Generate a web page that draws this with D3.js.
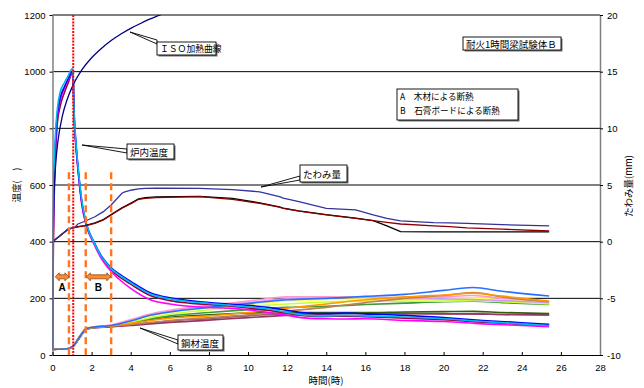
<!DOCTYPE html>
<html><head><meta charset="utf-8">
<script src="https://cdn.jsdelivr.net/npm/d3@7"></script>
<style>
body{margin:0;background:#fff;}
svg{display:block;}
text{font-family:"Liberation Sans",Arial,sans-serif;}
.jp{font-family:"Noto Sans CJK JP","Noto Sans CJK SC",sans-serif;}
</style></head>
<body>
<svg id="c" width="644" height="388"></svg>
<script>
// ---------- data ----------
const xTicks = [0,2,4,6,8,10,12,14,16,18,20,22,24,26,28];
const yTicks = [0,200,400,600,800,1000,1200];
const y2Ticks = [-10,-5,0,5,10,15,20];

// ISO heating curve (hours, °C)
const isoTime = [0,0.02,0.05,0.1,0.2,0.3,0.5,0.75,1,1.5,2,2.5,3,3.5,4,4.5,5,5.5,5.6];
const isoTemp = [20,374,502,603,705,766,842,902,945,1006,1049,1082,1110,1133,1153,1170,1186,1200,1203];

// furnace temperatures
const furnTime = [0,0.03,0.08,0.15,0.25,0.4,0.6,0.8,1.0,1.05,1.1,1.2,1.3,1.5,1.75,2.1,2.5,3,3.5,4,5,6,7,8,9,10,11,12,13,14,15,16,18,20,22,24,25.4];
const furnCyan    = [20,420,640,780,870,930,960,985,1010,995,870,750,670,545,460,400,348,305,278,255,215,198,188,182,176,170,163,150,140,138,140,138,134,128,118,110,104];
const furnBlue    = [20,380,600,750,850,910,945,975,1000,990,860,745,665,540,458,402,350,308,282,260,220,202,192,185,180,175,168,158,148,146,148,145,140,132,122,114,108];
const furnMagenta = [20,360,580,730,840,900,940,970,995,985,855,735,655,530,452,395,340,295,262,235,195,180,172,168,165,160,150,140,130,128,127,128,122,118,110,104,100];
const furnDarkRed = [20,300,540,700,820,880,925,960,992,980,850,740,660,535,455,398,345,300,272,250,210,192,183,178,173,166,158,148,138,136,137,135,130,125,116,108,103];

// steel temperatures
const steelTime = [0,0.75,0.9,1.1,1.3,1.5,1.7,2.0,3,4,5,6,8,10,12,14,16,18,20,21.5,23,25.4];
const steelBlue     = [20,22,25,35,55,75,92,97,104,120,140,152,168,182,195,200,207,214,228,238,225,208];
const steelOrange   = [20,22,25,36,57,77,93,97,103,112,122,130,138,150,165,180,195,205,212,218,208,190];
const steelPink     = [20,22,25,36,56,76,93,98,106,125,145,158,175,190,205,205,203,200,205,210,200,188];
const steelYellow   = [20,22,25,35,55,75,92,97,104,120,138,150,165,178,190,195,198,196,198,200,196,186];
const steelLime     = [20,22,25,35,54,74,91,96,103,116,132,144,160,172,180,187,190,190,190,192,188,180];
const steelGreen    = [20,22,25,35,55,75,92,97,103,114,128,138,150,160,168,172,178,183,188,190,185,178];
const steelDkGreen  = [20,22,25,34,54,74,91,96,102,112,124,133,142,148,150,150,150,152,153,154,150,146];
const steelBrown    = [20,22,25,35,55,75,92,97,102,108,115,122,132,142,155,168,185,200,210,220,205,188];
const steelMauve    = [20,22,24,33,52,72,90,95,100,104,110,115,123,132,140,145,146,146,145,145,143,141];
const steelRosy     = [20,22,24,33,52,72,90,95,100,106,113,120,128,138,146,148,148,147,146,145,143,141];
const steelLavender = [20,22,25,35,56,76,93,98,105,122,142,155,172,185,198,202,205,200,198,196,192,185];

// deflection (mm)
const deflTime = [0,0.4,0.8,1.15,1.3,1.66,2.17,2.6,3.0,3.55,3.7,4.06,4.4,4.75,5.3,7.5,9.2,10.6,11.6,11.8,12.6,14.0,15.5,16.4,17.1,17.8,19.5,20.3,21.2,23,25.4];
const deflBlue  = [0,0.55,1.1,1.27,1.56,1.8,2.2,2.65,3.24,4.27,4.4,4.56,4.65,4.7,4.72,4.7,4.6,4.4,3.97,3.85,3.53,2.94,2.8,2.36,2.05,1.83,1.68,1.65,1.62,1.5,1.39];
const deflRed   = [0,0.55,1.1,1.27,1.3,1.39,1.62,1.91,2.36,2.95,3.09,3.4,3.74,3.82,3.88,3.97,3.74,3.38,3.05,2.94,2.7,2.36,2.06,1.85,1.7,1.56,1.4,1.32,1.22,1.1,0.94];
const deflBlack = [0,0.55,1.1,1.27,1.32,1.42,1.65,1.95,2.4,2.98,3.12,3.45,3.78,3.88,3.95,4.0,3.82,3.42,3.08,2.96,2.72,2.38,2.08,1.85,1.4,0.88,0.86,0.86,0.86,0.86,0.86];

const textIso = "ＩＳＯ加熱曲線";
const textFurn = "炉内温度";
const textDefl = "たわみ量";
const textSteel = "鋼材温度";
const textTitle = "耐火1時間梁試験体Ｂ";
const textLegA = "A　木材による断熱";
const textLegB = "B　石膏ボードによる断熱";
const xLabel = "時間(時)";
const yLabel = "温度(　)";
const y2Label = "たわみ量(mm)";
// annotation time markers
const redLineTime = 1.06;
const orangeLineTimes = [0.84, 1.7, 3.0];

// ---------- drawing ----------
const svg = d3.select("#c");
const L=52.5, R=600, T=15, B=355;
const x = d3.scaleLinear([0,28],[L,R]);
const y = d3.scaleLinear([0,1200],[B,T]);
const y2 = d3.scaleLinear([-10,20],[B,T]);

svg.append("rect").attr("width",644).attr("height",388).attr("fill","#fff");
svg.append("defs").append("clipPath").attr("id","clip")
  .append("rect").attr("x",L).attr("y",T).attr("width",R-L).attr("height",B-T);

// gridlines
svg.append("g").selectAll("line").data(yTicks.filter(v=>v>0)).join("line")
  .attr("x1",L).attr("x2",R).attr("y1",d=>y(d)).attr("y2",d=>y(d))
  .attr("stroke","#000").attr("stroke-width",1);

const pairs = (ts,vs)=>ts.map((t,i)=>[t,vs[i]]);
const lineT = d3.line().x(d=>x(d[0])).y(d=>y(d[1])).curve(d3.curveMonotoneX);
const lineD = d3.line().x(d=>x(d[0])).y(d=>y2(d[1])).curve(d3.curveLinear);

const plot = svg.append("g").attr("clip-path","url(#clip)");

const steelSeries = [
  [steelRosy,"#996666"],[steelMauve,"#993366"],[steelDkGreen,"#2f5f10"],[steelGreen,"#3a9a3a"],
  [steelLime,"#ccff33"],[steelYellow,"#ffff66"],[steelLavender,"#cc99ff"],[steelPink,"#ff99cc"],
  [steelBrown,"#c08050"],[steelOrange,"#ff9900"],[steelBlue,"#2a6fff"]
];
steelSeries.forEach(([v,c])=>{
  plot.append("path").attr("d",lineT(pairs(steelTime,v))).attr("fill","none")
    .attr("stroke",c).attr("stroke-width",1.6);
});

const furnSeries = [[furnDarkRed,"#990033"],[furnMagenta,"#ff00ff"],[furnBlue,"#0000ff"],[furnCyan,"#00b8f0"]];
furnSeries.forEach(([v,c])=>{
  plot.append("path").attr("d",lineT(pairs(furnTime,v))).attr("fill","none")
    .attr("stroke",c).attr("stroke-width",1.6);
});

const deflSeries = [[deflBlack,"#000000"],[deflRed,"#8b0000"],[deflBlue,"#3333a0"]];
deflSeries.forEach(([v,c])=>{
  plot.append("path").attr("d",lineD(pairs(deflTime,v))).attr("fill","none")
    .attr("stroke",c).attr("stroke-width",1.3);
});

plot.append("path").attr("d",lineT(pairs(isoTime,isoTemp))).attr("fill","none")
  .attr("stroke","#000080").attr("stroke-width",1.3);

// orange dashed lines
svg.append("g").selectAll("line").data(orangeLineTimes).join("line")
  .attr("x1",d=>x(d)).attr("x2",d=>x(d)).attr("y1",y(645)).attr("y2",B)
  .attr("stroke","#ff7420").attr("stroke-width",2.4).attr("stroke-dasharray","7,4");
// red dotted line
svg.append("line").attr("x1",x(redLineTime)).attr("x2",x(redLineTime)).attr("y1",T).attr("y2",B)
  .attr("stroke","#ff0000").attr("stroke-width",2).attr("stroke-dasharray","2,1.2");

// axes
const gL = svg.append("g").attr("transform",`translate(${L},0)`)
  .call(d3.axisLeft(y).tickValues(yTicks).tickFormat(d3.format("d")).tickSize(3).tickSizeOuter(0).tickPadding(4));
const gB = svg.append("g").attr("transform",`translate(0,${B})`)
  .call(d3.axisBottom(x).tickValues(xTicks).tickFormat(d3.format("d")).tickSize(-3).tickSizeOuter(0).tickPadding(9));
const gR = svg.append("g").attr("transform",`translate(${R},0)`)
  .call(d3.axisRight(y2).tickValues(y2Ticks).tickFormat(d=>d<0?"-"+Math.abs(d):String(d)).tickSize(3).tickSizeOuter(0).tickPadding(4));
[gL,gB,gR].forEach(g=>{
  g.selectAll("text").attr("font-size",9.5).attr("fill","#000")
    .attr("font-family","'Liberation Sans',Arial,sans-serif");
});
gL.select(".domain").attr("stroke","#808080").attr("stroke-width",1.5);
gR.select(".domain").attr("stroke","#808080").attr("stroke-width",1.5);
gB.select(".domain").attr("stroke","#000").attr("stroke-width",1.2);

// axis titles
svg.append("text").attr("class","jp").attr("x",326).attr("y",384).attr("text-anchor","middle")
  .attr("font-size",9.5).text(xLabel);
svg.append("text").attr("class","jp").attr("transform","translate(20,185) rotate(-90)")
  .attr("text-anchor","middle").attr("font-size",9.5).text(yLabel);
svg.append("text").attr("class","jp").attr("transform","translate(632,186) rotate(-90)")
  .attr("text-anchor","middle").attr("font-size",9.5).text(y2Label);

// callout boxes
function box(x0,y0,w,h,lines,fs,baselines){
  const g=svg.append("g");
  g.append("rect").attr("x",x0+1.5).attr("y",y0+1.5).attr("width",w).attr("height",h).attr("fill","#707070");
  g.append("rect").attr("x",x0).attr("y",y0).attr("width",w).attr("height",h)
    .attr("fill","#fff").attr("stroke","#000").attr("stroke-width",0.9);
  lines.forEach((t,i)=>{
    g.append("text").attr("class","jp").attr("font-size",fs)
      .attr("x",x0+3).attr("y",y0+baselines[i]).text(t);
  });
}
function leader(x1,y1,x2,y2a,y2b){
  svg.append("path").attr("d",`M${x1},${y1}L${x2},${y2a}L${x2},${y2b}Z`)
    .attr("fill","#fff").attr("stroke","#000").attr("stroke-width",0.9).attr("stroke-linejoin","miter");
}
leader(130,32,157,40,44);
box(157,42,59,13,[textIso],8.8,[10]);
leader(82,145,127,149,153);
box(127,144,47,15,[textFurn],9.5,[11.5]);
leader(261,187,300,176,180);
box(300,165,47,17,[textDefl],9.5,[12.5]);
leader(140,328,178,340,344);
box(178,335,45,15,[textSteel],9.5,[11.5]);
box(463,37,98,13,[textTitle],9.5,[10.5]);
box(397,89,121,31,[textLegA,textLegB],8.6,[11.3,24.8]);

// A/B double arrows
function dblArrow(t1,t2,yc){
  const x1=x(t1), x2=x(t2), hs=2, hh=4, hl=4;
  const p=`M${x1},${yc}L${x1+hl},${yc-hh}L${x1+hl},${yc-hs}L${x2-hl},${yc-hs}L${x2-hl},${yc-hh}L${x2},${yc}L${x2-hl},${yc+hh}L${x2-hl},${yc+hs}L${x1+hl},${yc+hs}L${x1+hl},${yc+hh}Z`;
  svg.append("path").attr("d",p).attr("fill","#ff8a2a").attr("stroke","#7a3a10").attr("stroke-width",0.7);
}
dblArrow(0.14,0.84,y(276));
dblArrow(1.73,2.98,y(276));
svg.append("text").attr("x",x(0.49)).attr("y",291).attr("text-anchor","middle").attr("font-size",10).attr("font-weight","bold").text("A");
svg.append("text").attr("x",x(2.35)).attr("y",291).attr("text-anchor","middle").attr("font-size",10).attr("font-weight","bold").text("B");
</script>
</body></html>
